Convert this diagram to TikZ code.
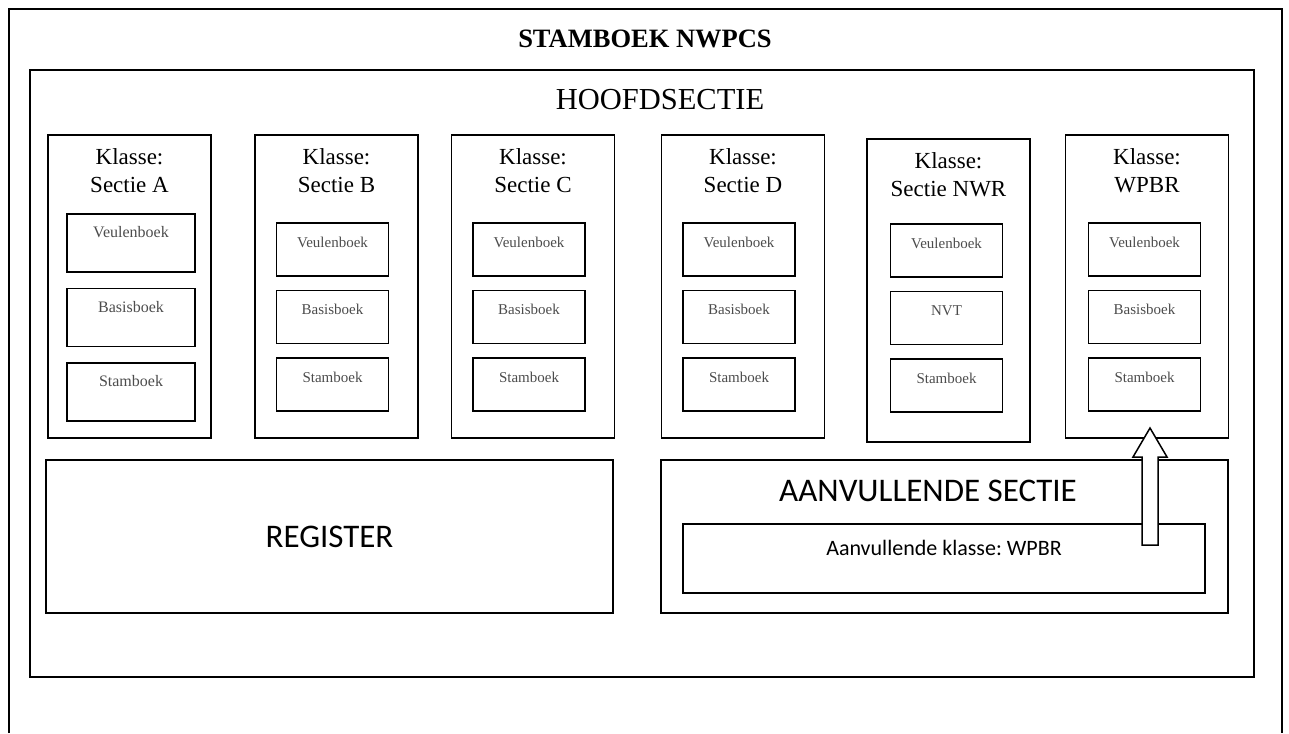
\documentclass[tikz,border=0pt]{standalone}
\usepackage{fontspec}
\setmainfont{Liberation Serif}
\newfontfamily\calibri{Carlito}
\frenchspacing
\usetikzlibrary{positioning}

\begin{document}
\begin{tikzpicture}[x=1pt,y=-1pt,line width=1.5pt,
		kader/.style={draw,inner sep=0pt},
		klasse/.style={kader,minimum width=163pt,minimum height=303pt},
		klassetekst/.style={inner sep=0pt,align=center,font=\fontsize{23}{28}\selectfont},
		boek/.style={kader,minimum width=112pt,minimum height=53pt,text=black!70,
			text height=10pt,text depth=15pt,font=\fontsize{15}{18}\selectfont},
		boekgroot/.style={boek,minimum width=128pt,minimum height=58pt,
			text height=11pt,text depth=22pt,font=\fontsize{16}{19}\selectfont},
		sectie/.style={kader,minimum width=567pt,minimum height=153pt},
		node distance=13pt]
		\useasboundingbox (0,0) rectangle (1289,733);
		\draw (9,733) -- (9,9) -- (1282,9) -- (1282,733);
		\node (titel) at (645,39) {\fontsize{26.5}{30}\selectfont\bfseries STAMBOEK NWPCS};
		
		\node[kader,minimum width=1224pt,minimum height=607pt] (hoofd) at (642,373.5) {};
		\node (hoofdtekst) at (660,100) {\fontsize{30.5}{34}\selectfont HOOFDSECTIE};
		
		% klasse A
		\node[klasse] (klA) at (129.5,286.5) {};
		\node[klassetekst,below=14pt of klA.north] (klAtekst) {Klasse:\\Sectie A};
		\node[boekgroot,below=79pt of klA.north,xshift=1.5pt] (veulenA) {Veulenboek};
		\node[boekgroot,below=15pt of veulenA] (basisA) {Basisboek};
		\node[boekgroot,below=15pt of basisA] (stamA) {Stamboek};
		
		% klasse B
		\node[klasse] (klB) at (336.5,286.5) {};
		\node[klassetekst,below=14pt of klB.north] (klBtekst) {Klasse:\\Sectie B};
		\node[boek,below=88pt of klB.north,xshift=-4pt] (veulenB) {Veulenboek};
		\node[boek,below=of veulenB] (basisB) {Basisboek};
		\node[boek,below=of basisB] (stamB) {Stamboek};
		
		% klasse C
		\node[klasse] (klC) at (533,286.5) {};
		\node[klassetekst,below=14pt of klC.north] (klCtekst) {Klasse:\\Sectie C};
		\node[boek,below=88pt of klC.north,xshift=-4pt] (veulenC) {Veulenboek};
		\node[boek,below=of veulenC] (basisC) {Basisboek};
		\node[boek,below=of basisC] (stamC) {Stamboek};
		
		% klasse D
		\node[klasse] (klD) at (743,286.5) {};
		\node[klassetekst,below=14pt of klD.north] (klDtekst) {Klasse:\\Sectie D};
		\node[boek,below=88pt of klD.north,xshift=-4pt] (veulenD) {Veulenboek};
		\node[boek,below=of veulenD] (basisD) {Basisboek};
		\node[boek,below=of basisD] (stamD) {Stamboek};
		
		% klasse NWR
		\node[klasse] (klNWR) at (948.5,290.5) {};
		\node[klassetekst,below=14pt of klNWR.north] (klNWRtekst) {Klasse:\\Sectie NWR};
		\node[boek,below=85pt of klNWR.north,xshift=-2pt] (veulenNWR) {Veulenboek};
		\node[boek,below=of veulenNWR] (nvtNWR) {NVT};
		\node[boek,below=of nvtNWR] (stamNWR) {Stamboek};
		
		% klasse WPBR
		\node[klasse] (klW) at (1147,286.5) {};
		\node[klassetekst,below=14pt of klW.north] (klWtekst) {Klasse:\\WPBR};
		\node[boek,below=88pt of klW.north,xshift=-2.5pt] (veulenW) {Veulenboek};
		\node[boek,below=of veulenW] (basisW) {Basisboek};
		\node[boek,below=of basisW] (stamW) {Stamboek};
		
		\node[sectie] (register) at (329.5,536.5) {\calibri\fontsize{33}{40}\selectfont REGISTER};
		
		\node[sectie] (aanvsectie) at (944.5,536.5) {};
		\node (aanvtekst) at (928,491) {\calibri\fontsize{33}{40}\selectfont AANVULLENDE SECTIE};
		\node[kader,minimum width=522pt,minimum height=69pt,text height=15pt,text depth=22pt,
			font=\calibri\fontsize{22}{26}\selectfont] (aanvklasse) at (944,558.5) {Aanvullende klasse: WPBR};
		
		% pijl naar WPBR
		\coordinate (pijlvoet) at (1150,545);
		\coordinate (pijlpunt) at (1150,428);
		\draw[fill=white] (pijlvoet) ++(-8,0) -- ++(0,-88) -- ++(-9,0) -- (pijlpunt)
			-- ++(17,29) -- ++(-9,0) -- ++(0,88) -- cycle;
\end{tikzpicture}
\end{document}
